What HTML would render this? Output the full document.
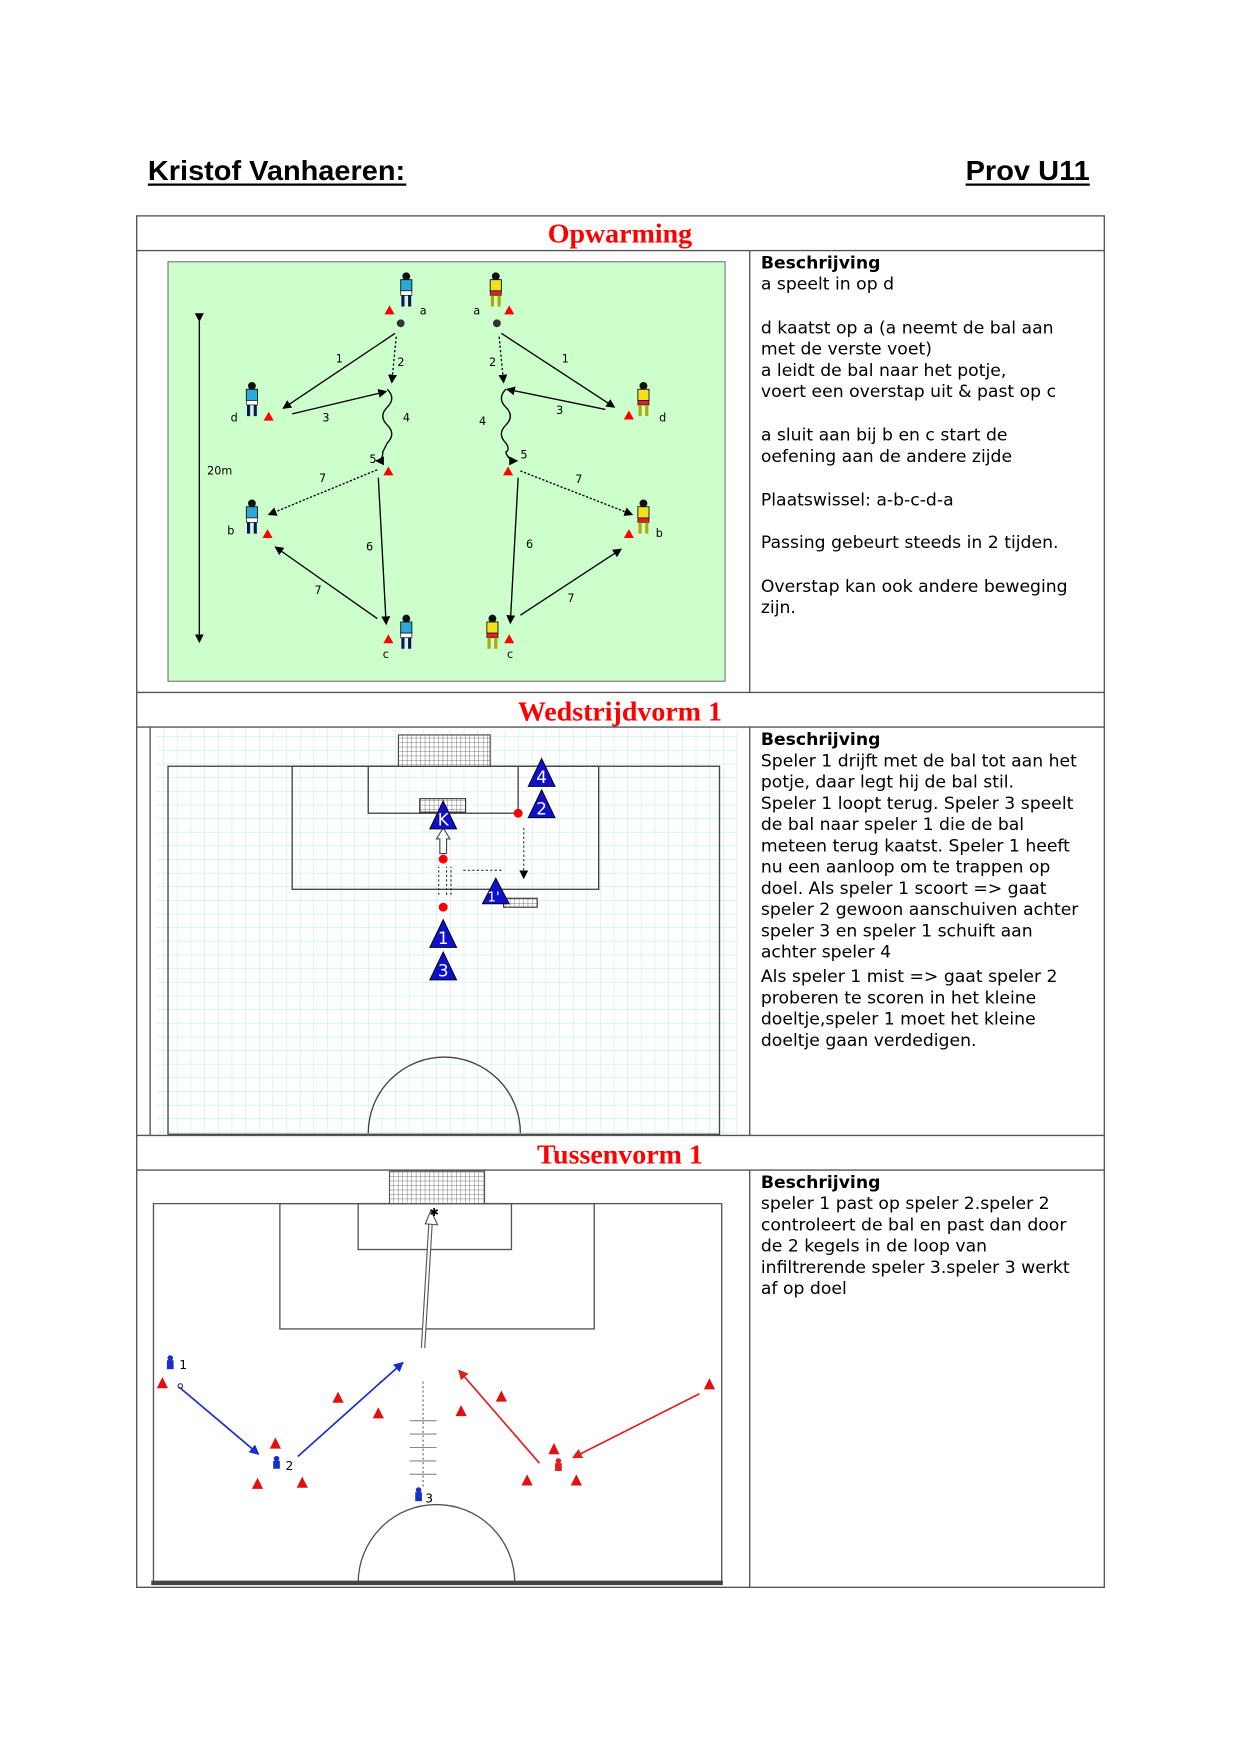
<!DOCTYPE html>
<html><head><meta charset="utf-8"><style>
html,body{margin:0;padding:0;background:#fff;}
svg{display:block;}
</style></head><body>
<svg width="1241" height="1754" viewBox="0 0 1109 1568" xmlns="http://www.w3.org/2000/svg">
<defs>
<pattern id="grid" width="12.2" height="12.2" patternUnits="userSpaceOnUse"><path d="M12.2 0V12.2H0" fill="none" stroke="#bfeef0" stroke-width="1"/></pattern>
<pattern id="net" width="4" height="4" patternUnits="userSpaceOnUse"><rect width="4" height="4" fill="#fff"/><path d="M4 0V4H0" fill="none" stroke="#555" stroke-width="0.7"/></pattern>
<marker id="ah" markerWidth="8" markerHeight="8" refX="7" refY="4" orient="auto" markerUnits="userSpaceOnUse"><path d="M0,0L8,4L0,8z" fill="#000"/></marker>
<marker id="ahb" markerWidth="9" markerHeight="9" refX="8" refY="4.5" orient="auto" markerUnits="userSpaceOnUse"><path d="M0,0L9,4.5L0,9z" fill="#1a2ecc"/></marker>
<marker id="ahr" markerWidth="9" markerHeight="9" refX="8" refY="4.5" orient="auto" markerUnits="userSpaceOnUse"><path d="M0,0L9,4.5L0,9z" fill="#e02020"/></marker>
<g id="pb"><circle cx="0" cy="-15" r="3.5" fill="#111"/><rect x="-5" y="-12" width="10" height="10" fill="#2aa8d8" stroke="#111" stroke-width="0.8"/><rect x="-5" y="-2" width="10" height="4" fill="#fff" stroke="#111" stroke-width="0.6"/><path d="M-3 2L-3 12M3 2L3 12" stroke="#116" stroke-width="2.8"/></g>
<g id="py"><circle cx="0" cy="-15" r="3.5" fill="#111"/><rect x="-5" y="-12" width="10" height="10" fill="#f0e020" stroke="#111" stroke-width="0.8"/><rect x="-5" y="-2" width="10" height="4" fill="#e02020" stroke="#111" stroke-width="0.6"/><path d="M-3 2L-3 12M3 2L3 12" stroke="#aa0" stroke-width="2.8"/></g>
<path id="cone" d="M0,-5L4.5,3H-4.5z" fill="#f00"/>
<path id="rc" d="M0,-6L5,4H-5z" fill="#e01010"/>
</defs>

<g font-family="Liberation Sans, sans-serif" font-weight="bold" font-size="25" fill="#000">
<text x="132" y="161" textLength="230" lengthAdjust="spacingAndGlyphs">Kristof Vanhaeren:</text>
<line x1="132" y1="165" x2="363" y2="165" stroke="#000" stroke-width="2"/>
<text x="863" y="161" textLength="111" lengthAdjust="spacingAndGlyphs">Prov U11</text>
<line x1="863" y1="165" x2="974" y2="165" stroke="#000" stroke-width="2"/>
</g>

<g stroke="#555" stroke-width="1.2" fill="none">
<rect x="122" y="193" width="865" height="1226"/>
<line x1="122" y1="224" x2="987" y2="224"/>
<line x1="122" y1="619" x2="987" y2="619"/>
<line x1="122" y1="650" x2="987" y2="650"/>
<line x1="122" y1="1015" x2="987" y2="1015"/>
<line x1="122" y1="1046" x2="987" y2="1046"/>
<line x1="670" y1="224" x2="670" y2="619"/>
<line x1="670" y1="650" x2="670" y2="1015"/>
<line x1="670" y1="1046" x2="670" y2="1419"/>
<line x1="134" y1="650" x2="134" y2="1015"/>
</g>
<g font-family="Liberation Serif, serif" font-weight="bold" font-size="25" fill="#ff0000" text-anchor="middle">
<text x="554" y="217">Opwarming</text>
<text x="554" y="644">Wedstrijdvorm 1</text>
<text x="554" y="1040">Tussenvorm 1</text>
</g>

<g font-family="DejaVu Sans, Verdana, sans-serif" font-size="15.4" fill="#000">
<text x="680" y="240" font-weight="bold">Beschrijving</text>
<text x="680" y="259">a speelt in op d</text>
<text x="680" y="298">d kaatst op a (a neemt de bal aan</text>
<text x="680" y="317">met de verste voet)</text>
<text x="680" y="336">a leidt de bal naar het potje,</text>
<text x="680" y="355">voert een overstap uit &amp; past op c</text>
<text x="680" y="394">a sluit aan bij b en c start de</text>
<text x="680" y="413">oefening aan de andere zijde</text>
<text x="680" y="452">Plaatswissel: a-b-c-d-a</text>
<text x="680" y="490">Passing gebeurt steeds in 2 tijden.</text>
<text x="680" y="529">Overstap kan ook andere beweging</text>
<text x="680" y="548">zijn.</text>

<text x="680" y="666" font-weight="bold">Beschrijving</text>
<text x="680" y="685">Speler 1 drijft met de bal tot aan het</text>
<text x="680" y="704">potje, daar legt hij de bal stil.</text>
<text x="680" y="723">Speler 1 loopt terug. Speler 3 speelt</text>
<text x="680" y="742">de bal naar speler 1 die de bal</text>
<text x="680" y="761">meteen terug kaatst. Speler 1 heeft</text>
<text x="680" y="780">nu een aanloop om te trappen op</text>
<text x="680" y="799">doel. Als speler 1 scoort =&gt; gaat</text>
<text x="680" y="818">speler 2 gewoon aanschuiven achter</text>
<text x="680" y="837">speler 3 en speler 1 schuift aan</text>
<text x="680" y="856">achter speler 4</text>
<text x="680" y="878">Als speler 1 mist =&gt; gaat speler 2</text>
<text x="680" y="897">proberen te scoren in het kleine</text>
<text x="680" y="916">doeltje,speler 1 moet het kleine</text>
<text x="680" y="935">doeltje gaan verdedigen.</text>

<text x="680" y="1062" font-weight="bold">Beschrijving</text>
<text x="680" y="1081">speler 1 past op speler 2.speler 2</text>
<text x="680" y="1100">controleert de bal en past dan door</text>
<text x="680" y="1119">de 2 kegels in de loop van</text>
<text x="680" y="1138">infiltrerende speler 3.speler 3 werkt</text>
<text x="680" y="1157">af op doel</text>
</g>

<rect x="150" y="234" width="498" height="375" fill="#ccffcc" stroke="#777" stroke-width="1"/>
<line x1="178" y1="287" x2="178" y2="574" stroke="#000" stroke-width="1.2" marker-start="url(#ah)" marker-end="url(#ah)"/>
<g font-family="DejaVu Sans, sans-serif" font-size="10" fill="#000">
<text x="185" y="424">20m</text>
<text x="300" y="324">1</text><text x="355" y="327">2</text><text x="288" y="377">3</text><text x="360" y="377">4</text><text x="330" y="414">5</text><text x="285" y="431">7</text><text x="327" y="492">6</text><text x="281" y="531">7</text>
<text x="502" y="324">1</text><text x="437" y="327">2</text><text x="497" y="370">3</text><text x="428" y="380">4</text><text x="465" y="410">5</text><text x="514" y="432">7</text><text x="470" y="490">6</text><text x="507" y="538">7</text>
<text x="375" y="281">a</text><text x="206" y="377">d</text><text x="203" y="478">b</text><text x="342" y="588">c</text>
<text x="423" y="281">a</text><text x="589" y="377">d</text><text x="586" y="480">b</text><text x="453" y="588">c</text>
</g>
<g stroke="#000" stroke-width="1.2" fill="none">
<line x1="353" y1="298" x2="253" y2="365" marker-end="url(#ah)"/>
<line x1="354" y1="301" x2="350" y2="342" stroke-dasharray="2,2" marker-end="url(#ah)"/>
<line x1="261" y1="370" x2="345" y2="350" marker-end="url(#ah)"/>
<path d="M346 348 q8 8 0 16 q-8 8 0 16 q8 8 0 16 q-4 8 -4 8 q0 8 -6 8" marker-end="url(#ah)"/>
<line x1="337" y1="420" x2="240" y2="460" stroke-dasharray="2,1.5" marker-end="url(#ah)"/>
<line x1="338" y1="427" x2="345" y2="558" marker-end="url(#ah)"/>
<line x1="337" y1="553" x2="246" y2="489" marker-end="url(#ah)"/>
<line x1="448" y1="298" x2="549" y2="364" marker-end="url(#ah)"/>
<line x1="446" y1="301" x2="450" y2="342" stroke-dasharray="2,2" marker-end="url(#ah)"/>
<line x1="541" y1="366" x2="453" y2="348" marker-end="url(#ah)"/>
<path d="M452 348 q-8 8 0 16 q8 8 0 16 q-8 8 0 16 q4 6 0 8 q2 8 10 8" marker-end="url(#ah)"/>
<line x1="465" y1="421" x2="565" y2="460" stroke-dasharray="2,1.5" marker-end="url(#ah)"/>
<line x1="463" y1="427" x2="456" y2="557" marker-end="url(#ah)"/>
<line x1="465" y1="550" x2="555" y2="491" marker-end="url(#ah)"/>
</g>
<circle cx="358" cy="289" r="3.5" fill="#333"/><circle cx="444" cy="289" r="3.5" fill="#333"/>
<use href="#pb" x="363" y="262"/><use href="#pb" x="225" y="360"/><use href="#pb" x="225" y="465"/><use href="#pb" x="363" y="568"/>
<use href="#py" x="443" y="262"/><use href="#py" x="575" y="360"/><use href="#py" x="575" y="465"/><use href="#py" x="440" y="568"/>
<use href="#cone" x="348" y="278"/><use href="#cone" x="455" y="278"/><use href="#cone" x="240" y="373"/><use href="#cone" x="562" y="372"/>
<use href="#cone" x="347" y="422"/><use href="#cone" x="454" y="422"/><use href="#cone" x="239" y="478"/><use href="#cone" x="562" y="478"/>
<use href="#cone" x="347" y="572"/><use href="#cone" x="455" y="572"/>

<rect x="140" y="652" width="520" height="362" fill="#fff"/>
<rect x="140" y="652" width="520" height="362" fill="url(#grid)"/>
<g stroke="#444" stroke-width="1.2" fill="none">
<rect x="150" y="685" width="493" height="329"/>
<rect x="261" y="685" width="274" height="110"/>
<rect x="329" y="685" width="134" height="42"/>
<path d="M329 1013 A68 68 0 0 1 465 1013"/>
</g>
<rect x="356" y="657" width="82" height="28" fill="url(#net)" stroke="#444"/>
<rect x="375" y="714" width="41" height="12" fill="url(#net)" stroke="#333"/>
<rect x="450" y="803" width="30" height="8" fill="url(#net)" stroke="#333"/>
<g stroke="#333" stroke-width="1" fill="none" stroke-dasharray="2,2">
<line x1="468" y1="740" x2="468" y2="785" marker-end="url(#ah)"/>
<line x1="414" y1="778" x2="450" y2="778"/>
<path d="M392 800V775M399 800V775M403 800V775"/>
</g>
<path d="M393 763V750H390L396 740L402 750H399V763Z" fill="#fff" stroke="#444"/>
<g fill="#1010cc" stroke="#000" stroke-width="0.8">
<path d="M396 716L408 741H384Z"/><path d="M484 678L496 703H472Z"/><path d="M484 706L496 731H472Z"/>
<path d="M443 785L455 808H431Z"/><path d="M396 822L408 847H384Z"/><path d="M396 851L408 876H384Z"/>
</g>
<g fill="#fff" font-family="DejaVu Sans, sans-serif" font-size="15" text-anchor="middle">
<text x="396" y="738">K</text><text x="484" y="700">4</text><text x="484" y="728">2</text>
<text x="441" y="806" font-size="12">1'</text><text x="396" y="844">1</text><text x="396" y="873">3</text>
</g>
<circle cx="463" cy="727" r="4" fill="#f00"/><circle cx="396" cy="768" r="4" fill="#f00"/><circle cx="396" cy="811" r="4" fill="#f00"/>

<g stroke="#555" stroke-width="1.2" fill="none">
<path d="M137 1415V1076H645V1415"/>
<rect x="250" y="1076" width="281" height="112"/>
<rect x="320" y="1076" width="137" height="41"/>
<path d="M320 1415 A70 70 0 0 1 460 1415"/>
</g>
<line x1="135" y1="1415" x2="646" y2="1415" stroke="#444" stroke-width="4"/>
<rect x="348" y="1047" width="85" height="29" fill="url(#net)" stroke="#555"/>
<path d="M378 1205L385 1088" stroke="#555" stroke-width="4" fill="none"/>
<path d="M378 1205L385 1088" stroke="#fff" stroke-width="2" fill="none"/>
<path d="M380 1094L385 1082L391 1095Z" fill="#fff" stroke="#555"/>
<text x="388" y="1087" font-size="10" text-anchor="middle" font-family="DejaVu Sans, sans-serif">✱</text>
<g stroke="#666" stroke-width="1" stroke-dasharray="2,2">
<line x1="378" y1="1235" x2="378" y2="1330"/>
</g>
<g stroke="#888" stroke-width="1">
<path d="M366 1270H390M366 1282H390M366 1294H390M366 1306H390M366 1318H390"/>
</g>
<line x1="160" y1="1240" x2="231" y2="1300" stroke="#1a2ecc" stroke-width="1.5" marker-end="url(#ahb)"/>
<line x1="266" y1="1302" x2="360" y2="1218" stroke="#1a2ecc" stroke-width="1.5" marker-end="url(#ahb)"/>
<line x1="482" y1="1308" x2="410" y2="1225" stroke="#e02020" stroke-width="1.5" marker-end="url(#ahr)"/>
<line x1="625" y1="1246" x2="512" y2="1303" stroke="#e02020" stroke-width="1.5" marker-end="url(#ahr)"/>
<use href="#rc" x="145" y="1237"/><use href="#rc" x="302" y="1250"/><use href="#rc" x="338" y="1264"/>
<use href="#rc" x="246" y="1291"/><use href="#rc" x="230" y="1327"/><use href="#rc" x="270" y="1326"/>
<use href="#rc" x="412" y="1262"/><use href="#rc" x="448" y="1249"/><use href="#rc" x="495" y="1296"/>
<use href="#rc" x="471" y="1324"/><use href="#rc" x="515" y="1324"/><use href="#rc" x="634" y="1238"/>
<g fill="#1a2ecc"><circle cx="152" cy="1214" r="2.5"/><rect x="149" y="1216" width="6" height="8"/>
<circle cx="247" cy="1304" r="2.5"/><rect x="244" y="1306" width="6" height="7"/>
<circle cx="374" cy="1332" r="2.5"/><rect x="371" y="1334" width="6" height="8"/></g>
<g fill="#e02020"><circle cx="499" cy="1306" r="2.5"/><rect x="496" y="1308" width="6" height="7"/></g>
<circle cx="161" cy="1239" r="2" fill="none" stroke="#333"/>
<g font-family="DejaVu Sans, sans-serif" font-size="11" fill="#000">
<text x="160" y="1224">1</text><text x="255" y="1314">2</text><text x="380" y="1343">3</text>
</g>
</svg>
</body></html>
